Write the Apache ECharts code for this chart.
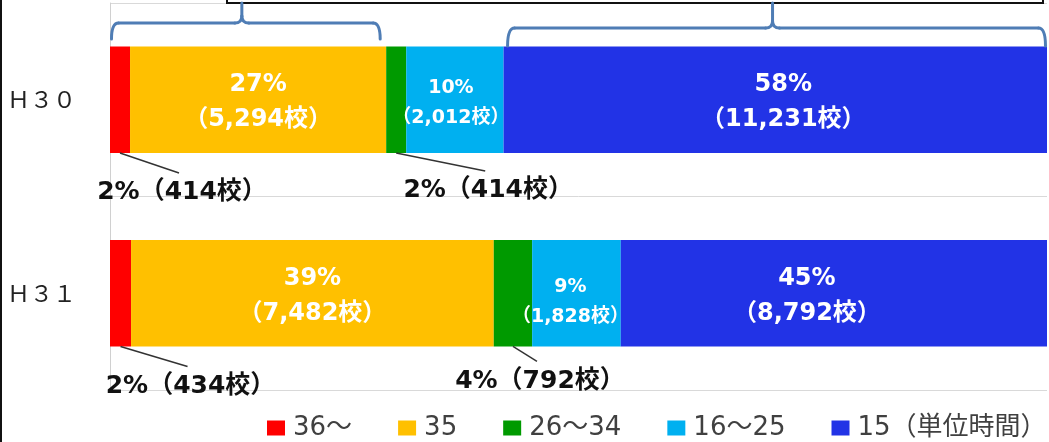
<!DOCTYPE html>
<html>
<head>
<meta charset="utf-8">
<script src="https://cdn.jsdelivr.net/npm/echarts@6/dist/echarts.min.js"></script>
<style>
  html, body { margin: 0; padding: 0; background: #fff; }
  #chart { width: 1049px; height: 442px; }
</style>
</head>
<body>
<div id="chart"></div>
<script>
// 授業時数区分ごとの学校数（年度別）
const years = ['Ｈ３０', 'Ｈ３１'];
const bandNames = ['36〜', '35', '26〜34', '16〜25', '15（単位時間）'];
const schools36plus = [414, 434];
const schools35 = [5294, 7482];
const schools26to34 = [414, 792];
const schools16to25 = [2012, 1828];
const schools15 = [11231, 8792];

const counts = [schools36plus, schools35, schools26to34, schools16to25, schools15];
const colors = ['#FF0000', '#FFC000', '#009A00', '#00B0F0', '#2233E6'];
const FONT = '"Noto Sans CJK JP", "Noto Sans", sans-serif';
const LABEL_FONT = '"DejaVu Sans", "Noto Sans CJK JP", sans-serif';

// 100% stacked: each year's bar is normalised by its own total
const totals = years.map((_, i) => counts.reduce((sum, arr) => sum + arr[i], 0));
const share = (s, i) => counts[s][i] / totals[i] * 100;
const fmt = n => n.toLocaleString('en-US');
const pct = (s, i) => Math.round(share(s, i)) + '%';
const key = (s, i) => s + '-' + i;

// thin segments get a callout below the bar: [dx, dy] of the text centre
// measured from the segment's bottom-centre
const callouts = { '0-0': [62, 40], '2-0': [92, 38], '0-1': [70, 40], '2-1': [27, 35] };
// small nudges for the in-bar labels
const innerShift = { '1-0': [0, 3], '1-1': [0, 3], '3-0': [-4, 3], '3-1': [-6, 9], '4-0': [8, 3], '4-1': [-27, 3] };

const series = counts.map((arr, s) => ({
  name: bandNames[s],
  type: 'bar',
  stack: 'all',
  barWidth: '55%',
  itemStyle: { color: colors[s] },
  labelLine: { show: false },
  data: arr.map((n, i) => {
    const k = key(s, i);
    const item = { value: share(s, i) };
    if (callouts[k]) {
      item.label = {
        show: true,
        position: 'bottom',
        formatter: pct(s, i) + '（' + fmt(n) + '校）',
        color: '#111',
        fontSize: 25,
        fontWeight: 'bold',
        fontFamily: LABEL_FONT
      };
    } else {
      const small = s === 3;
      const fs = small ? 19 : 24;
      const lh = small ? 30 : 35;
      item.label = {
        show: true,
        position: 'inside',
        formatter: '{p|' + pct(s, i) + '}\n{n|（' + fmt(n) + '校）}',
        rich: {
          p: { fontSize: fs, lineHeight: lh, fontWeight: 'bold', color: '#fff', fontFamily: LABEL_FONT, align: 'center' },
          n: { fontSize: fs, lineHeight: lh, fontWeight: 'bold', color: '#fff', fontFamily: LABEL_FONT, align: 'center' }
        }
      };
    }
    return item;
  }),
  labelLayout: p => {
    const k = key(s, p.dataIndex);
    const c = callouts[k];
    if (c) {
      return {
        x: p.rect.x + p.rect.width / 2 + c[0],
        y: p.rect.y + p.rect.height + c[1],
        align: 'center',
        verticalAlign: 'middle'
      };
    }
    const d = innerShift[k] || [0, 0];
    return { dx: d[0], dy: d[1] };
  }
}));

const chart = echarts.init(document.getElementById('chart'), null, { renderer: 'canvas' });

const option = {
  animation: false,
  backgroundColor: '#fff',
  grid: { left: 110, right: 2, top: 3, bottom: 52, containLabel: false },
  xAxis: {
    type: 'value',
    min: 0,
    max: 100,
    show: false
  },
  yAxis: {
    type: 'category',
    data: years,
    inverse: true,
    axisLine: { show: true, lineStyle: { color: '#D0D0D0', width: 1 } },
    axisTick: { show: false },
    splitLine: { show: true, lineStyle: { color: '#D9D9D9', width: 1 } },
    axisLabel: { fontSize: 23, color: '#222', fontFamily: FONT, margin: 34 }
  },
  legend: {
    data: bandNames,
    left: 267,
    top: 415,
    width: 780,
    padding: 0,
    icon: 'rect',
    itemWidth: 18,
    itemHeight: 15,
    itemGap: 46,
    textStyle: { fontSize: 26, color: '#404040', fontFamily: LABEL_FONT, padding: [0, 0, 0, 3] }
  },
  series: series
};

chart.setOption(option);

// annotation layer: callout leader lines, grouping brackets, header frame
const xPx = v => chart.convertToPixel({ xAxisIndex: 0 }, v);
const yPx = c => chart.convertToPixel({ yAxisIndex: 0 }, c);
const band = Math.abs(yPx(years[1]) - yPx(years[0]));
const halfBar = band * 0.55 / 2;
const cumStart = (s, i) => { let t = 0; for (let k = 0; k < s; k++) t += share(k, i); return t; };

const graphics = [];

Object.keys(callouts).forEach(k => {
  const [s, i] = k.split('-').map(Number);
  const sx = xPx(cumStart(s, i) + share(s, i) / 2);
  const sy = yPx(years[i]) + halfBar;
  const c = callouts[k];
  graphics.push({
    type: 'line',
    shape: { x1: sx, y1: sy, x2: sx + c[0] - 3, y2: sy + c[1] - 20 },
    style: { stroke: '#333', lineWidth: 1.5 },
    z: 10
  });
});

// header frame above the plot
graphics.push({
  type: 'rect',
  shape: { x: 227, y: -30, width: 816, height: 33 },
  style: { fill: '#fff', stroke: '#111', lineWidth: 2 },
  z: 5
});

// curly-style bracket with a centre stem rising to the frame
function bracket(x0, x1, yH, yEnd, yTop) {
  const r = 7;
  const xc = (x0 + x1) / 2 - 4;
  const st = { stroke: '#4F7DB5', lineWidth: 3, fill: null, lineCap: 'round' };
  const q = (a, b, cx, cy, d, e) => ({ type: 'bezierCurve', shape: { x1: a, y1: b, cpx1: cx, cpy1: cy, x2: d, y2: e }, style: st, z: 6 });
  const l = (a, b, d, e) => ({ type: 'line', shape: { x1: a, y1: b, x2: d, y2: e }, style: st, z: 6 });
  return [
    q(x0, yEnd, x0, yH, x0 + r, yH),
    l(x0 + r, yH, xc - r, yH),
    q(xc - r, yH, xc, yH, xc, yH - r),
    l(xc, yH - r, xc, yTop),
    q(xc + r, yH, xc, yH, xc, yH - r),
    l(xc + r, yH, x1 - r, yH),
    q(x1 - r, yH, x1, yH, x1, yEnd)
  ];
}
const leftEnd = xPx(share(0, 0) + share(1, 0)) - 6;
const rightStart = xPx(cumStart(4, 0)) + 4;
graphics.push(...bracket(xPx(0) + 1.5, leftEnd, 23, 39, 3));
graphics.push(...bracket(rightStart, xPx(100) - 1.5, 28, 46, 3));

// page border on the left
graphics.push({
  type: 'line',
  shape: { x1: 1, y1: 0, x2: 1, y2: 442 },
  style: { stroke: '#111', lineWidth: 2 },
  z: 10
});

chart.setOption({ graphic: graphics });
</script>
</body>
</html>
